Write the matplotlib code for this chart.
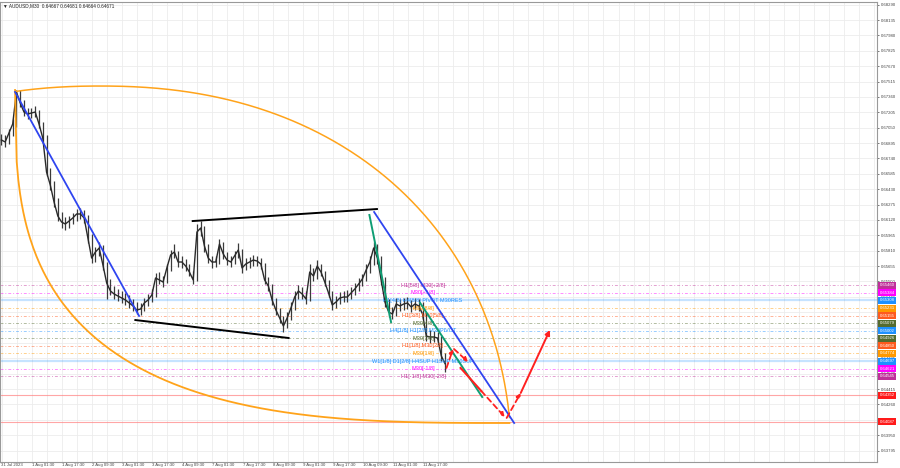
import numpy as np
import matplotlib
matplotlib.use('Agg')
import matplotlib.pyplot as plt
import matplotlib.transforms as mtransforms

plt.rcParams['font.family'] = ['Liberation Sans', 'DejaVu Sans']

# AUDUSD M30, grouped into 2-hour bars
closes = [0.66926, 0.66906, 0.66996, 0.67087, 0.67410, 0.67299, 0.67208, 0.67188, 0.67198, 0.67208,
          0.67087, 0.66946, 0.66603, 0.66472, 0.66301, 0.66160, 0.66099, 0.66079, 0.66109, 0.66140,
          0.66180, 0.66180, 0.66140, 0.65938, 0.65736, 0.65797, 0.65837, 0.65666, 0.65484, 0.65404,
          0.65373, 0.65353, 0.65333, 0.65313, 0.65283, 0.65253, 0.65212, 0.65222, 0.65283, 0.65313,
          0.65363, 0.65535, 0.65515, 0.65494, 0.65636, 0.65767, 0.65797, 0.65696, 0.65696, 0.65656,
          0.65595, 0.65515, 0.65998, 0.66039, 0.65857, 0.65736, 0.65696, 0.65696, 0.65877, 0.65777,
          0.65716, 0.65696, 0.65757, 0.65817, 0.65636, 0.65676, 0.65696, 0.65716, 0.65706, 0.65676,
          0.65515, 0.65454, 0.65313, 0.65212, 0.65132, 0.65051, 0.65132, 0.65232, 0.65343, 0.65404,
          0.65373, 0.65323, 0.65595, 0.65555, 0.65656, 0.65595, 0.65494, 0.65384, 0.65263, 0.65293,
          0.65333, 0.65343, 0.65343, 0.65384, 0.65424, 0.65474, 0.65525, 0.65615, 0.65696, 0.65837,
          0.65736, 0.65515, 0.65293, 0.65192, 0.65172, 0.65273, 0.65253, 0.65273, 0.65283, 0.65242,
          0.65273, 0.65253, 0.65172, 0.64950, 0.64940, 0.64940, 0.64930, 0.64749, 0.64671]
highs = [0.66985, 0.66975, 0.67040, 0.67140, 0.67430, 0.67425, 0.67330, 0.67245, 0.67250, 0.67265,
         0.67230, 0.67110, 0.66980, 0.66640, 0.66510, 0.66340, 0.66200, 0.66150, 0.66160, 0.66190,
         0.66230, 0.66240, 0.66220, 0.66170, 0.65980, 0.65850, 0.65900, 0.65870, 0.65700, 0.65520,
         0.65450, 0.65420, 0.65400, 0.65380, 0.65360, 0.65320, 0.65290, 0.65280, 0.65330, 0.65370,
         0.65420, 0.65590, 0.65600, 0.65560, 0.65680, 0.65820, 0.65880, 0.65810, 0.65760, 0.65730,
         0.65680, 0.65610, 0.66080, 0.66110, 0.66060, 0.65880, 0.65760, 0.65760, 0.65930, 0.65900,
         0.65800, 0.65760, 0.65810, 0.65890, 0.65830, 0.65740, 0.65750, 0.65770, 0.65760, 0.65740,
         0.65690, 0.65540, 0.65470, 0.65330, 0.65230, 0.65150, 0.65190, 0.65290, 0.65400, 0.65460,
         0.65440, 0.65400, 0.65680, 0.65640, 0.65720, 0.65680, 0.65610, 0.65510, 0.65400, 0.65350,
         0.65390, 0.65400, 0.65410, 0.65440, 0.65480, 0.65530, 0.65580, 0.65680, 0.65760, 0.65900,
         0.65880, 0.65760, 0.65540, 0.65320, 0.65240, 0.65330, 0.65320, 0.65330, 0.65340, 0.65310,
         0.65330, 0.65320, 0.65290, 0.65190, 0.65010, 0.65000, 0.64990, 0.64950, 0.64780]
lows = [0.66880, 0.66860, 0.66890, 0.66970, 0.67060, 0.67260, 0.67170, 0.67140, 0.67150, 0.67160,
        0.67050, 0.66900, 0.66560, 0.66420, 0.66250, 0.66110, 0.66040, 0.66020, 0.66040, 0.66080,
        0.66110, 0.66130, 0.66090, 0.65890, 0.65690, 0.65700, 0.65760, 0.65620, 0.65320, 0.65360,
        0.65320, 0.65300, 0.65280, 0.65260, 0.65230, 0.65200, 0.65170, 0.65160, 0.65200, 0.65250,
        0.65290, 0.65340, 0.65470, 0.65440, 0.65480, 0.65610, 0.65740, 0.65650, 0.65640, 0.65610,
        0.65550, 0.65470, 0.65500, 0.65960, 0.65800, 0.65690, 0.65640, 0.65650, 0.65680, 0.65730,
        0.65670, 0.65650, 0.65680, 0.65740, 0.65590, 0.65620, 0.65640, 0.65660, 0.65660, 0.65630,
        0.65470, 0.65400, 0.65260, 0.65160, 0.65080, 0.64990, 0.65030, 0.65110, 0.65210, 0.65320,
        0.65320, 0.65270, 0.65300, 0.65500, 0.65520, 0.65550, 0.65450, 0.65340, 0.65210, 0.65230,
        0.65270, 0.65290, 0.65290, 0.65320, 0.65360, 0.65400, 0.65450, 0.65500, 0.65590, 0.65670,
        0.65680, 0.65460, 0.65240, 0.65140, 0.65120, 0.65150, 0.65200, 0.65210, 0.65220, 0.65190,
        0.65210, 0.65200, 0.65120, 0.64900, 0.64880, 0.64890, 0.64870, 0.64700, 0.64590]

# x axis: M30 bar index
date_ticks = [1, 34, 66, 98, 130, 162, 194, 226, 258, 290, 322, 354, 386, 418, 450]
date_labels = ['31 Jul 2023', '1 Aug 01:30', '1 Aug 17:30', '2 Aug 09:30', '3 Aug 01:30',
               '3 Aug 17:30', '4 Aug 09:30', '7 Aug 01:30', '7 Aug 17:30', '8 Aug 09:30',
               '9 Aug 01:30', '9 Aug 17:30', '10 Aug 09:30', '11 Aug 01:30', '11 Aug 17:30']

# Murrey math levels
level_prices = [0.65460, 0.65384, 0.65308, 0.65231, 0.65155, 0.65079, 0.65002,
                0.64926, 0.64850, 0.64774, 0.64697, 0.64621, 0.64545]
level_names = ['H1[5/8] M30[+2/8]', 'M30[+1/8]', 'H1[4/8] H4[8/8] PIVOT M30RES', 'M30[8/8]',
               'H1[3/8] M30[5/8]', 'M30[4/8]', 'H4[1/8] H1[2/8] M30PIVOT', 'M30[3/8]',
               'H1[1/8] M30[2/8]', 'M30[1/8]', 'W1[1/8] D1[2/8] H4SUP H1SUP M30SUP',
               'M30[-1/8]', 'H1[-1/8] M30[-2/8]']
level_colors = ['#c0309a', '#ff00ff', '#1e90ff', '#ff9900', '#ff5a1e', '#556b2f', '#1e90ff',
                '#556b2f', '#ff5a1e', '#ff9900', '#1e90ff', '#ff00ff', '#c0309a']
red_levels = [0.64352, 0.64087]
last_price = 0.64671

# drawn objects: (bar, price) endpoints
blue1 = [(16, 0.67410), (148, 0.65152)]
blue2 = [(398, 0.66200), (547, 0.64073)]
black_top = [(205, 0.66109), (401, 0.66230)]
black_bot = [(144, 0.65111), (307, 0.64930)]
green1 = [(393, 0.66170), (416, 0.65091)]
green2 = [(447, 0.65283), (513, 0.64335)]
red_dashed = [[(475, 0.64628), (482, 0.64819)], [(483, 0.64819), (498, 0.64688)],
              [(512, 0.64396), (537, 0.64134)], [(539, 0.64124), (554, 0.64376)]]
red_solid = [[(490, 0.64628), (512, 0.64396)], [(554, 0.64376), (585, 0.65011)]]
arc_a = (16, 0.67430)
arc_b = (542, 0.64073)

fig = plt.figure(figsize=(9, 4.68), dpi=100)
ax = fig.add_axes([0.0, 6 / 468, 877 / 900, 460 / 468])
ax.set_xlim(0, 933)
ax.set_ylim(0.63680, 0.68317)

# grid
yt = np.round(np.arange(0.63795, 0.68300, 0.00155), 5)
ax.set_yticks(yt)
ax.set_yticklabels(['%.5f' % v for v in yt])
ax.yaxis.tick_right()
ax.tick_params(axis='y', labelsize=3.1, length=1.5, width=0.5, pad=1.5, colors='#444')
ax.set_xticks(date_ticks)
ax.set_xticklabels(date_labels)
ax.tick_params(axis='x', labelsize=3.1, length=0, pad=0.8, colors='#444')
plt.setp(ax.get_xticklabels(), ha='left')
for v in yt:
    ax.axhline(v, color='#ececec', lw=0.6, zorder=0)
for b in range(2, 933, 16):
    ax.axvline(b, color='#ececec', lw=0.6, zorder=0)
for s in ax.spines.values():
    s.set_color('#999999')
    s.set_linewidth(0.8)

# levels
for p, c in zip(level_prices, level_colors):
    if c == '#1e90ff' and p != 0.65002:
        ax.axhline(p, color=c, lw=1.6, alpha=0.25, zorder=1)
    else:
        ax.axhline(p, color=c, lw=0.7, alpha=0.45, ls=(0, (3, 2, 1, 2)), zorder=1)
for p in red_levels:
    ax.axhline(p, color='#ff8080', lw=0.8, alpha=0.7, zorder=1)

# price bars
xs = np.arange(len(closes)) * 4 + 1.5
ax.vlines(xs, lows, highs, color='#3a3a3a', lw=0.9, zorder=3)
ax.plot(xs, closes, color='#2a2a2a', lw=1.0, zorder=3)

# level names
for p, n, c in zip(level_prices, level_names, level_colors):
    ax.text(450, p, n, fontsize=4.0, color=c, ha='center', va='center', zorder=4)

# orange arcs
orange = '#ffa31a'
xa = np.linspace(arc_a[0], arc_b[0], 300)
top_cx, top_a, top_y, top_b, top_n = 106.4, 438.3, 0.67470, 0.03891, 2.2
top_arc = top_y - top_b * (1 - (1 - np.abs((xa - top_cx) / top_a) ** top_n) ** (1 / top_n))
ax.plot(xa, top_arc, color=orange, lw=1.1, zorder=4)
bot_a = arc_b[0] - arc_a[0]
bot_b = arc_a[1] - arc_b[1]
bot_arc = arc_a[1] - bot_b * (1 - ((arc_b[0] - xa) / bot_a) ** 3) ** (1 / 3)
ax.plot(xa, bot_arc, color=orange, lw=1.3, zorder=4)

# trend lines
for seg, col, lw in [(blue1, '#2f45f0', 1.3), (blue2, '#2f45f0', 1.3), (black_top, 'black', 1.4),
                     (black_bot, 'black', 1.4), (green1, '#0f9e74', 1.4), (green2, '#0f9e74', 1.4)]:
    ax.plot([seg[0][0], seg[1][0]], [seg[0][1], seg[1][1]], color=col, lw=lw, zorder=5)

# projection arrows
for seg in red_dashed:
    ax.annotate('', xy=seg[1], xytext=seg[0],
                arrowprops=dict(arrowstyle='-|>', color='#ff2020', lw=1.3, ls=(0, (3, 2)),
                                mutation_scale=6, shrinkA=0, shrinkB=0), zorder=6)
ax.plot([red_solid[0][0][0], red_solid[0][1][0]], [red_solid[0][0][1], red_solid[0][1][1]],
        color='#ff2020', lw=1.5, zorder=6)
ax.annotate('', xy=red_solid[1][1], xytext=red_solid[1][0],
            arrowprops=dict(arrowstyle='-|>', color='#ff2020', lw=1.4,
                            mutation_scale=7, shrinkA=0, shrinkB=0), zorder=6)

# price boxes on the right scale
trans = mtransforms.blended_transform_factory(ax.transAxes, ax.transData)
box_kw = dict(fontsize=3.1, color='white', ha='left', va='center', transform=trans,
              clip_on=False, zorder=10)
ax.text(1.003, last_price, '%.5f' % last_price,
        bbox=dict(boxstyle='square,pad=0.35', fc='black', ec='none'), **box_kw)
for p, c in zip(level_prices, level_colors):
    ax.text(1.003, p, '%.5f' % p, bbox=dict(boxstyle='square,pad=0.35', fc=c, ec='none'), **box_kw)
for p in red_levels:
    ax.text(1.003, p, '%.5f' % p, bbox=dict(boxstyle='square,pad=0.35', fc='#ff1a1a', ec='none'),
            **box_kw)

fig.text(0.003, 0.988, '\u25bc AUDUSD,M30  0.64667 0.64681 0.64664 0.64671',
         fontsize=3.4, color='#222', va='center')

fig.savefig('out.png', dpi=100, facecolor='white')
